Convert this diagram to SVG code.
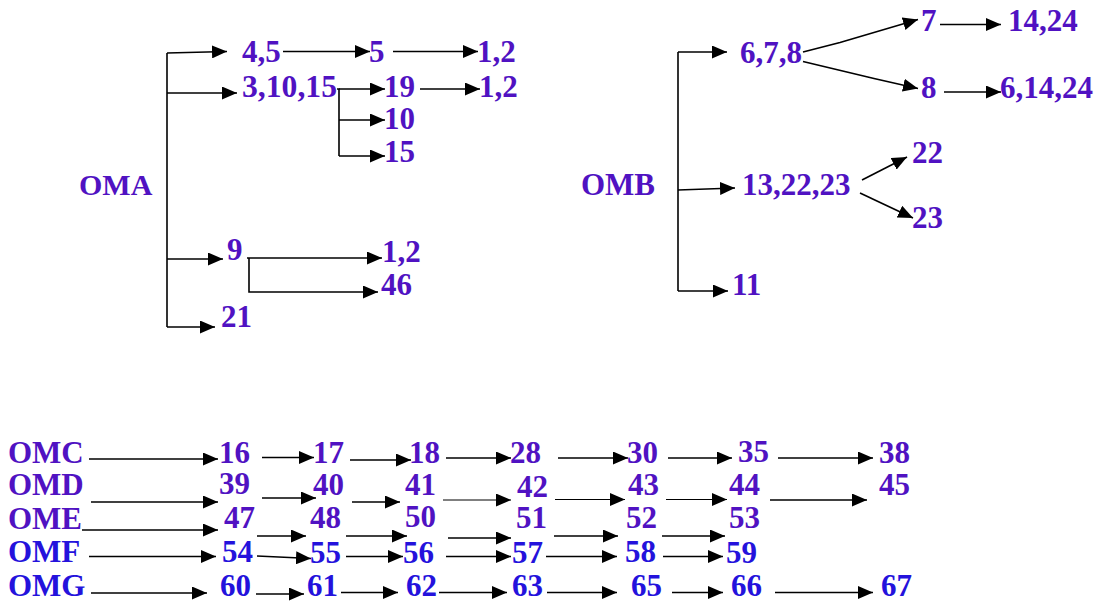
<svg xmlns="http://www.w3.org/2000/svg" width="1104" height="604" viewBox="0 0 1104 604">
<defs>
<marker id="ah" markerUnits="userSpaceOnUse" markerWidth="16" markerHeight="13" refX="15" refY="6.5" orient="auto">
<path d="M0,0 L15,6.5 L0,13 z" fill="#000"/>
</marker>
</defs>
<style>
text{font-family:"Liberation Serif","Times New Roman",serif;font-weight:bold;font-size:31px;fill:#5012C2}
.b text{fill:#2412DC}
.c line,.c polyline,.c path{stroke:#000;stroke-width:1.6;fill:none}
.c .a{marker-end:url(#ah)}
.c .t{stroke-width:1}
</style>
<rect width="1104" height="604" fill="#fff"/>
<g class="c" id="connectors">
<!-- OMA -->
<line x1="167" y1="53" x2="167" y2="327"/>
<line class="a" x1="167" y1="53" x2="227" y2="51.5"/>
<line class="a" x1="283" y1="51.5" x2="370" y2="51.5"/>
<line class="a" x1="393" y1="51.5" x2="478" y2="51.5"/>
<line class="a" x1="167" y1="93" x2="237" y2="93"/>
<polyline points="337,89 339,89 339,156"/>
<line class="a" x1="339" y1="89" x2="385" y2="89"/>
<line class="a" x1="420" y1="89" x2="480" y2="89"/>
<line class="a" x1="339" y1="120" x2="385" y2="120"/>
<line class="a" x1="339" y1="156" x2="385" y2="156"/>
<line class="a" x1="167" y1="259" x2="223" y2="259"/>
<line class="a" x1="247" y1="258" x2="382" y2="258"/>
<polyline class="a" points="249,258 249,292 378,292"/>
<line class="a" x1="167" y1="327" x2="215" y2="327"/>
<!-- OMB -->
<line x1="678" y1="52" x2="678" y2="291"/>
<line class="a" x1="678" y1="52" x2="727" y2="52"/>
<polyline class="a" points="803,52 840,42.5 918,19.5"/>
<polyline class="a" points="803,61.5 874,78.5 918,88.5"/>
<line class="a" x1="940" y1="24.5" x2="1001" y2="24.5"/>
<line class="a" x1="944" y1="92" x2="1001" y2="92"/>
<line class="a" x1="678" y1="190" x2="735" y2="188"/>
<line class="a" x1="862" y1="180" x2="907" y2="157"/>
<line class="a" x1="860" y1="193" x2="913" y2="218"/>
<line class="a" x1="678" y1="291" x2="728" y2="291"/>
<!-- OMC -->
<line class="a" x1="89" y1="459" x2="218" y2="459"/>
<line class="a" x1="262" y1="457.5" x2="314" y2="457.5"/>
<line class="a" x1="350" y1="460" x2="411" y2="460"/>
<line class="a" x1="446" y1="458" x2="511" y2="458"/>
<line class="a" x1="558" y1="458" x2="628" y2="458"/>
<line class="a" x1="668" y1="458" x2="732" y2="458"/>
<line class="a" x1="778" y1="458" x2="873" y2="458"/>
<!-- OMD -->
<line class="a" x1="91" y1="502" x2="218" y2="502"/>
<line class="a" x1="262" y1="498" x2="316" y2="498"/>
<line class="a" x1="352" y1="502" x2="400" y2="502"/>
<line class="a t" x1="443" y1="500" x2="511" y2="500"/>
<line class="a t" x1="555" y1="499.5" x2="625" y2="499.5"/>
<line class="a t" x1="666" y1="499.5" x2="727" y2="499.5"/>
<line class="a" x1="770" y1="500" x2="867" y2="500"/>
<!-- OME -->
<line class="a" x1="82" y1="530" x2="218" y2="530"/>
<line class="a" x1="257" y1="536" x2="306" y2="536"/>
<line class="a" x1="346" y1="536" x2="407" y2="536"/>
<line class="a" x1="448" y1="538" x2="511" y2="538"/>
<line class="a" x1="554" y1="536" x2="618" y2="536"/>
<line class="a" x1="662" y1="536" x2="725" y2="536"/>
<!-- OMF -->
<line class="a" x1="89" y1="556.5" x2="216" y2="556.5"/>
<line class="a" x1="257" y1="556" x2="311" y2="558.5"/>
<line class="a" x1="346" y1="556.5" x2="403" y2="556.5"/>
<line class="a" x1="446" y1="556.5" x2="511" y2="556.5"/>
<line class="a" x1="546" y1="556.5" x2="617" y2="556.5"/>
<line class="a" x1="663" y1="556.5" x2="723" y2="556.5"/>
<!-- OMG -->
<line class="a" x1="91" y1="593" x2="207" y2="593"/>
<line class="a" x1="256" y1="594" x2="304" y2="594"/>
<line class="a" x1="341" y1="592.5" x2="398" y2="592.5"/>
<line class="a" x1="439" y1="592.5" x2="507" y2="592.5"/>
<line class="a" x1="547" y1="592.5" x2="617" y2="592.5"/>
<line class="a" x1="672" y1="592.5" x2="723" y2="592.5"/>
<line class="a" x1="775" y1="592.5" x2="873" y2="592.5"/>
</g>
<!-- OMA tree -->
<g id="OMA"><text x="79" y="195" style="font-size:30px">OMA</text></g>
<g id="n45"><text x="242" y="61.5">4,5</text></g>
<g id="n5"><text x="369" y="61.5">5</text></g>
<g id="n12a"><text x="477" y="61.5">1,2</text></g>
<g id="n31015"><text x="242" y="97" textLength="95" lengthAdjust="spacingAndGlyphs">3,10,15</text></g>
<g id="n19"><text x="384" y="97">19</text></g>
<g id="n12b"><text x="479" y="97">1,2</text></g>
<g id="n10"><text x="384" y="129">10</text></g>
<g id="n15"><text x="384" y="162">15</text></g>
<g id="n9"><text x="227" y="260">9</text></g>
<g id="n12c"><text x="382" y="262">1,2</text></g>
<g id="n46"><text x="381" y="295">46</text></g>
<g id="n21"><text x="221" y="327">21</text></g>
<!-- OMB tree -->
<g id="OMB"><text x="581" y="195">OMB</text></g>
<g id="n678"><text x="740" y="62.5">6,7,8</text></g>
<g id="n7"><text x="921" y="30.5">7</text></g>
<g id="n1424"><text x="1008" y="30.5">14,24</text></g>
<g id="n8"><text x="921" y="98">8</text></g>
<g id="n61424"><text x="1000" y="98" textLength="93" lengthAdjust="spacingAndGlyphs">6,14,24</text></g>
<g id="n132223"><text x="742" y="195">13,22,23</text></g>
<g id="n22"><text x="912" y="163">22</text></g>
<g id="n23"><text x="912" y="228">23</text></g>
<g id="n11"><text x="732" y="295">11</text></g>
<!-- OMC -->
<g id="OMC"><text x="8" y="463">OMC</text></g>
<g id="n16"><text x="219" y="463">16</text></g>
<g id="n17"><text x="313" y="463">17</text></g>
<g id="n18"><text x="409" y="463">18</text></g>
<g id="n28"><text x="510" y="463">28</text></g>
<g id="n30"><text x="627" y="462.5">30</text></g>
<g id="n35"><text x="738" y="461.5">35</text></g>
<g id="n38"><text x="879" y="462.5">38</text></g>
<!-- OMD -->
<g id="OMD"><text x="8" y="495">OMD</text></g>
<g id="n39"><text x="219" y="494">39</text></g>
<g id="n40"><text x="313" y="495">40</text></g>
<g id="n41"><text x="405" y="495">41</text></g>
<g id="n42"><text x="517" y="496.5">42</text></g>
<g id="n43"><text x="628" y="495">43</text></g>
<g id="n44"><text x="729" y="495">44</text></g>
<g id="n45b"><text x="879" y="495">45</text></g>
<!-- OME -->
<g id="OME"><text x="8" y="529">OME</text></g>
<g id="n47"><text x="224" y="528">47</text></g>
<g id="n48"><text x="310" y="528">48</text></g>
<g id="n50"><text x="405" y="527">50</text></g>
<g id="n51"><text x="516" y="528">51</text></g>
<g id="n52"><text x="626" y="528">52</text></g>
<g id="n53"><text x="729" y="528">53</text></g>
<!-- OMF -->
<g class="b">
<g id="OMF"><text x="8" y="562">OMF</text></g>
<g id="n54"><text x="222" y="562">54</text></g>
<g id="n55"><text x="310" y="562.5">55</text></g>
<g id="n56"><text x="403" y="562.5">56</text></g>
<g id="n57"><text x="512" y="562.5">57</text></g>
<g id="n58"><text x="625" y="562">58</text></g>
<g id="n59"><text x="726" y="562.5">59</text></g>
</g>
<!-- OMG -->
<g class="b">
<g id="OMG"><text x="8" y="595.5">OMG</text></g>
<g id="n60"><text x="220" y="595.5">60</text></g>
<g id="n61"><text x="307" y="595.5">61</text></g>
<g id="n62"><text x="406" y="595.5">62</text></g>
<g id="n63"><text x="512" y="595.5">63</text></g>
<g id="n65"><text x="631" y="596">65</text></g>
<g id="n66"><text x="731" y="595.5">66</text></g>
<g id="n67"><text x="881" y="595.5">67</text></g>
</g>
</svg>
